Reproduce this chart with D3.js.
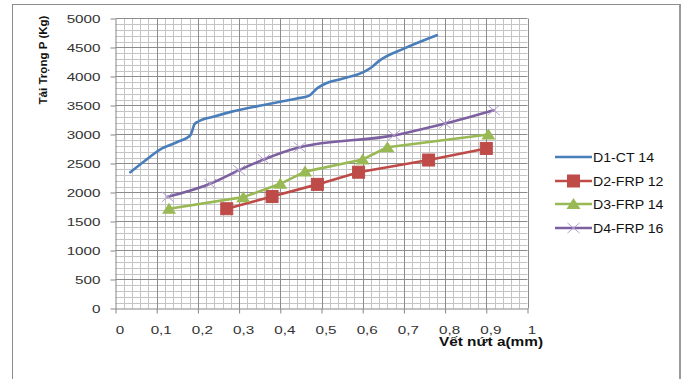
<!DOCTYPE html>
<html><head><meta charset="utf-8">
<script src="https://cdn.jsdelivr.net/npm/d3@7"></script>
<style>
body{margin:0;background:#fff;}
svg{display:block;}
</style></head>
<body>
<svg id="chart" width="685" height="379"></svg>
<script>
// ---- data ----
const xTicks = [0,0.1,0.2,0.3,0.4,0.5,0.6,0.7,0.8,0.9,1];
const yTicks = [0,500,1000,1500,2000,2500,3000,3500,4000,4500,5000];
const seriesNames = ["D1-CT 14","D2-FRP 12","D3-FRP 14","D4-FRP 16"];
const d1x = [0.036,0.07,0.113,0.15,0.182,0.192,0.2,0.24,0.28,0.36,0.4,0.44,0.469,0.49,0.51,0.55,0.603,0.62,0.64,0.7,0.78];
const d1y = [2350,2540,2760,2870,2990,3180,3220,3310,3390,3510,3565,3620,3665,3800,3880,3960,4080,4150,4270,4480,4710];
const d2x = [0.27,0.38,0.49,0.59,0.76,0.90];
const d2y = [1720,1930,2140,2350,2560,2760];
const d3x = [0.13,0.31,0.40,0.46,0.60,0.66,0.905];
const d3y = [1720,1920,2150,2360,2570,2780,3000];
const d4x = [0.127,0.23,0.30,0.36,0.447,0.676,0.80,0.918];
const d4y = [1925,2150,2385,2570,2780,2985,3190,3420];
const xTitle = "Vết nứt a(mm)";
const yTitle = "Tải Trọng  P (Kg)";

const colors = ["#4a7ebb","#be4b48","#98b954","#7d60a0"];

const svg = d3.select("#chart");
const FONT = "'Liberation Sans', Arial, sans-serif";

// frame
svg.append("rect").attr("x",12.5).attr("y",4.5).attr("width",667).attr("height",420)
  .attr("fill","#fff").attr("stroke","#8c8c8c").attr("stroke-width",1);
svg.append("line").attr("x1",680).attr("x2",680).attr("y1",4).attr("y2",379)
  .attr("stroke","#9a9a9a").attr("stroke-width",2);

const x = d3.scaleLinear().domain([0,1]).range([115.5,527.5]);
const y = d3.scaleLinear().domain([0,5000]).range([308.5,18.5]);

const grid = svg.append("g");
// minor grid
d3.range(100,5001,100).filter(v=>v%500!==0).forEach(v=>{
  grid.append("line").attr("x1",x(0)).attr("x2",x(1)).attr("y1",Math.round(y(v))+0.5).attr("y2",Math.round(y(v))+0.5)
    .attr("stroke","#c4c4c4").attr("stroke-width",1);
});
d3.range(1,51).filter(i=>i%5!==0).forEach(i=>{
  const xv = Math.round(x(i/50))+0.5;
  grid.append("line").attr("x1",xv).attr("x2",xv).attr("y1",y(5000)).attr("y2",y(0))
    .attr("stroke","#c4c4c4").attr("stroke-width",1);
});
// major grid
yTicks.slice(1).forEach(v=>{
  grid.append("line").attr("x1",x(0)).attr("x2",x(1)).attr("y1",y(v)).attr("y2",y(v))
    .attr("stroke","#8c8c8c").attr("stroke-width",1);
});
xTicks.slice(1).forEach(v=>{
  const xv = Math.round(x(v))+0.5;
  grid.append("line").attr("x1",xv).attr("x2",xv).attr("y1",y(5000)).attr("y2",y(0))
    .attr("stroke","#8c8c8c").attr("stroke-width",1);
});

// axes
const fmt = d => String(d).replace(".",",");
const yAxis = svg.append("g").attr("transform","translate(115.5,0)")
  .call(d3.axisLeft(y).tickValues(yTicks).tickSize(5).tickSizeOuter(0).tickFormat(d=>d));
const xAxis = svg.append("g").attr("transform","translate(0,308.5)")
  .call(d3.axisBottom(x).tickValues(xTicks).tickSize(5).tickSizeOuter(0).tickFormat(fmt));
[yAxis,xAxis].forEach(a=>{
  a.select(".domain").attr("stroke","#868686");
  a.selectAll(".tick line").attr("stroke","#868686");
  a.selectAll("text").attr("font-family",FONT).attr("font-size",10.5).attr("fill","#333");
});
yAxis.selectAll(".tick text").attr("x",0).attr("dy","0.35em")
  .attr("transform","translate(-15,0) scale(1.45,1)");
xAxis.selectAll(".tick text").attr("y",0).attr("dy","0.71em")
  .attr("transform","translate(4,18) scale(1.45,1)");

// axis titles
svg.append("text").attr("transform","translate(47,60) rotate(-90) scale(1.05,1)")
  .attr("text-anchor","middle").attr("font-family",FONT).attr("font-weight","bold")
  .attr("font-size",11).attr("fill","#111").text(yTitle);
svg.append("text").attr("transform","translate(543,346) scale(1.28,1)")
  .attr("text-anchor","end").attr("font-family",FONT).attr("font-weight","bold")
  .attr("font-size",12).attr("fill","#111").text(xTitle);

// series
const series = [
  {xs:d1x, ys:d1y, curve:d3.curveMonotoneX, marker:null},
  {xs:d2x, ys:d2y, curve:d3.curveLinear, marker:"square"},
  {xs:d3x, ys:d3y, curve:d3.curveLinear, marker:"triangle"},
  {xs:d4x, ys:d4y, curve:d3.curveMonotoneX, marker:"x"}
];
function drawMarker(g, type, cx, cy, color){
  if(type==="square"){
    g.append("rect").attr("x",cx-6).attr("y",cy-6).attr("width",12).attr("height",12)
      .attr("fill",color).attr("stroke",color);
  } else if(type==="triangle"){
    g.append("path").attr("d",`M${cx},${cy-6}L${cx+7},${cy+5}L${cx-7},${cy+5}Z`)
      .attr("fill",color);
  } else if(type==="x"){
    g.append("path").attr("d",`M${cx-6},${cy-5}L${cx+6},${cy+5}M${cx-6},${cy+5}L${cx+6},${cy-5}`)
      .attr("stroke","#b3a2d0").attr("stroke-width",1).attr("fill","none");
  }
}
series.forEach((s,i)=>{
  const pts = s.xs.map((v,k)=>[v,s.ys[k]]);
  const line = d3.line().x(d=>x(d[0])).y(d=>y(d[1])).curve(s.curve);
  svg.append("path").attr("d",line(pts)).attr("fill","none").attr("stroke",colors[i])
    .attr("stroke-width",2.6).attr("stroke-linejoin","round").attr("stroke-linecap","round");
  const mg = svg.append("g");
  if(s.marker) pts.forEach(d=>drawMarker(mg,s.marker,x(d[0]),y(d[1]),colors[i]));
});

// legend
const legY = [157,181,204,228];
seriesNames.forEach((n,i)=>{
  const g = svg.append("g");
  g.append("line").attr("x1",555).attr("x2",592).attr("y1",legY[i]).attr("y2",legY[i])
    .attr("stroke",colors[i]).attr("stroke-width",2.6);
  if(series[i].marker) drawMarker(g, series[i].marker, 573.5, legY[i], colors[i]);
  g.append("text").attr("transform",`translate(593,${legY[i]+4.5}) scale(1.18,1)`)
    .attr("font-family",FONT).attr("font-size",12).attr("fill","#111").text(n);
});
</script>
</body></html>
